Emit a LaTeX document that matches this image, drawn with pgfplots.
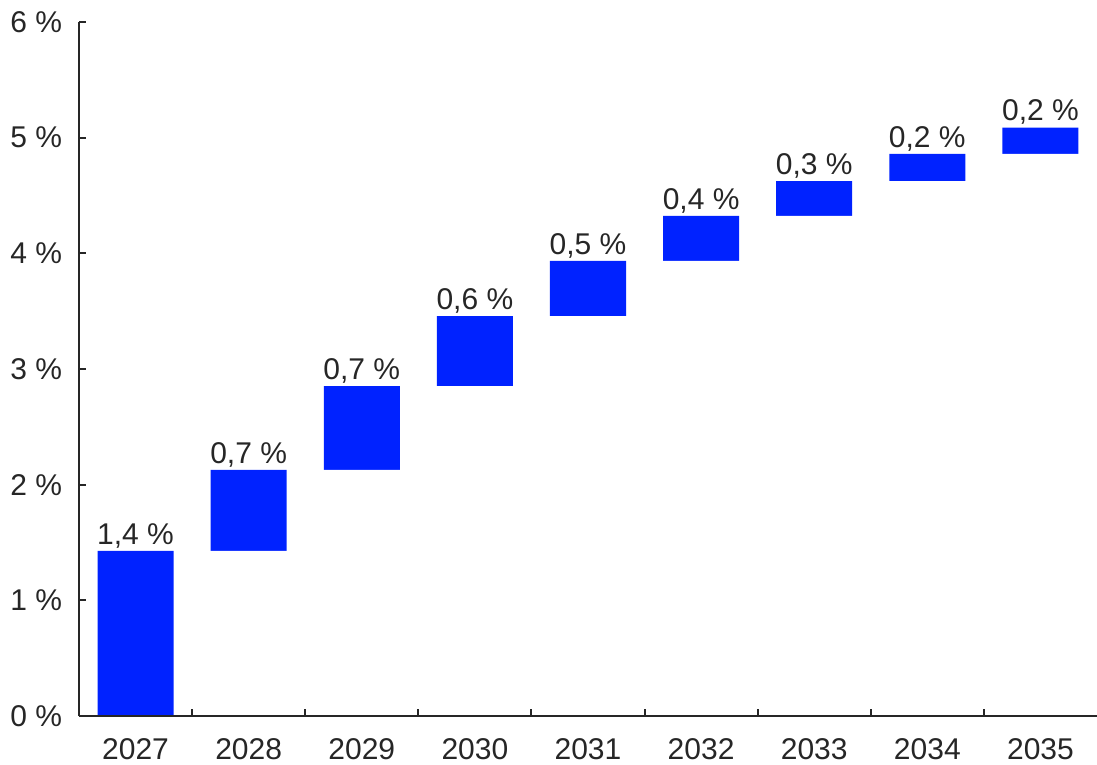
\documentclass[border=0pt]{standalone}
\usepackage{fontspec}
\setmainfont{Liberation Sans}
\usepackage{pgfplots}
\usepackage{pgfplotstable}
\pgfplotsset{compat=1.18}
\definecolor{barblue}{HTML}{0022FF}
\definecolor{inkgray}{HTML}{262626}

% year, bar base, bar top, shown label
\pgfplotstableread{
x base top lab
0 0.000 1.427 1.4
1 1.427 2.127 0.7
2 2.127 2.853 0.7
3 2.853 3.458 0.6
4 3.458 3.934 0.5
5 3.934 4.323 0.4
6 4.323 4.625 0.3
7 4.625 4.859 0.2
8 4.859 5.087 0.2
}\waterfall

\begin{document}
\begin{tikzpicture}
\begin{axis}[
  scale only axis,
  width=407.2pt, height=277.6pt,
  ybar, bar shift=0pt,
  bar width=0.672,
  xmin=-0.5, xmax=8.5,
  ymin=0, ymax=6,
  axis on top,
  axis x line*=bottom,
  axis y line*=left,
  axis line style={inkgray, line width=0.8pt},
  tick align=inside,
  xtick={0,...,8},
  xticklabels={2027,2028,2029,2030,2031,2032,2033,2034,2035},
  major x tick style={draw=none},
  minor xtick={0.5,1.5,...,7.5},
  minor tick length=2.8pt,
  minor x tick style={inkgray, line width=0.8pt},
  ytick={0,...,6},
  yticklabels={0 \%,1 \%,2 \%,3 \%,4 \%,5 \%,6 \%},
  major tick length=2.8pt,
  y tick style={inkgray, line width=0.8pt},
  tick label style={font=\fontsize{12}{14}\selectfont, text=inkgray},
  xticklabel style={yshift=-5.4pt},
  yticklabel style={xshift=-3.2pt},
  /pgf/number format/assume math mode=true,
  clip=false,
]
% full bar up to the running total, with the step shown on top
\addplot[draw=none, fill=barblue,
  point meta=explicit,
  nodes near coords={\pgfmathprintnumber[fixed,fixed zerofill,precision=1,use comma]{\pgfplotspointmeta}~\%},
  every node near coord/.append style={font=\fontsize{12}{14}\selectfont, text=inkgray, anchor=south, inner sep=1pt},
] table[x=x, y=top, meta=lab] {\waterfall};
% hide the part below the previous total (a bit wider to swallow edge antialiasing)
\addplot[draw=none, fill=white, bar width=0.7] table[x=x, y=base] {\waterfall};
\end{axis}
\pgfresetboundingbox
\path[use as bounding box] ([shift={(-31.6pt,-19.2pt)}]current axis.south west)
  rectangle ([shift={(0pt,8.8pt)}]current axis.north east);
\end{tikzpicture}
\end{document}
